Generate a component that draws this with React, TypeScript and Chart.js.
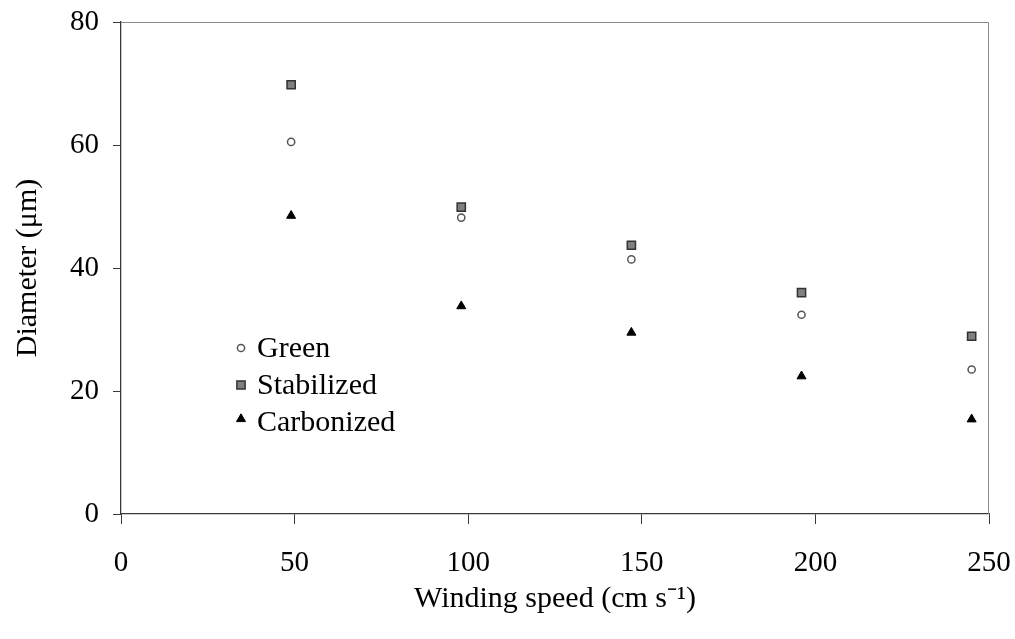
import React, { useEffect, useRef } from 'react';
import { Chart, registerables } from 'chart.js';

Chart.register(...registerables);

const windingSpeed = [49, 98, 147, 196, 245];
const greenDiameter = [60.5, 48.2, 41.4, 32.4, 23.5];
const stabilizedDiameter = [69.8, 49.9, 43.7, 36.0, 28.9];
const carbonizedDiameter = [48.5, 33.8, 29.5, 22.4, 15.4];
const seriesNames = ['Green', 'Stabilized', 'Carbonized'];
const xTickValues = [0, 50, 100, 150, 200, 250];
const yTickValues = [0, 20, 40, 60, 80];
const xTitle = 'Winding speed (cm s\u207B\u00B9)';
const yTitle = 'Diameter (\u03BCm)';

const FONT = '"Liberation Serif", "Times New Roman", serif';
const AXIS = '#3a3a3a';

type Sty = { shape: string; fill: string; stroke: string; r: number; lw: number };
const styles: Sty[] = [
  { shape: 'circle', fill: '#ffffff', stroke: '#555555', r: 3.6, lw: 1.5 },
  { shape: 'rect', fill: '#808080', stroke: '#333333', r: 5.8, lw: 1.5 },
  { shape: 'triangle', fill: '#000000', stroke: '#000000', r: 5.2, lw: 1 },
];

function drawMarker(ctx: CanvasRenderingContext2D, s: Sty, x: number, y: number) {
  ctx.save();
  ctx.fillStyle = s.fill;
  ctx.strokeStyle = s.stroke;
  ctx.lineWidth = s.lw;
  ctx.beginPath();
  if (s.shape === 'circle') {
    ctx.arc(x, y, s.r, 0, Math.PI * 2);
  } else if (s.shape === 'rect') {
    const h = s.r * Math.SQRT1_2;
    ctx.rect(x - h, y - h, 2 * h, 2 * h);
  } else {
    const a = s.r;
    ctx.moveTo(x, y - a);
    ctx.lineTo(x + a * 0.866, y + a * 0.5);
    ctx.lineTo(x - a * 0.866, y + a * 0.5);
    ctx.closePath();
  }
  ctx.fill();
  ctx.stroke();
  ctx.restore();
}

const framePlugin = {
  id: 'frame',
  afterDatasetsDraw(chart: any) {
    const { ctx, chartArea: a } = chart;
    ctx.save();
    ctx.strokeStyle = '#8a8a8a';
    ctx.lineWidth = 1;
    ctx.beginPath();
    ctx.moveTo(a.left, a.top + 0.5);
    ctx.lineTo(a.right - 0.5, a.top + 0.5);
    ctx.lineTo(a.right - 0.5, a.bottom);
    ctx.stroke();
    ctx.restore();
  },
};

const legendPlugin = {
  id: 'innerLegend',
  afterDraw(chart: any) {
    const { ctx } = chart;
    const mx = 241;
    const tx = 257;
    const rows = [349, 386, 423];
    ctx.save();
    ctx.font = `30px ${FONT}`;
    ctx.fillStyle = '#000';
    ctx.textBaseline = 'middle';
    ctx.textAlign = 'left';
    seriesNames.forEach((name, i) => {
      drawMarker(ctx, styles[i], mx, rows[i] - (i === 2 ? 3 : 0) - 1);
      ctx.fillText(name, tx, rows[i]);
    });
    ctx.restore();
  },
};

const zeroPad = (s: any) => {
  s.paddingTop = 0;
  s.paddingBottom = 0;
  s.paddingLeft = 0;
  s.paddingRight = 0;
};

export default function App() {
  const ref = useRef<HTMLCanvasElement | null>(null);
  useEffect(() => {
    if (!ref.current) return;
    const mk = (vals: number[]) => windingSpeed.map((x, i) => ({ x, y: vals[i] }));
    const seriesVals = [greenDiameter, stabilizedDiameter, carbonizedDiameter];
    const chart = new Chart(ref.current, {
      type: 'scatter',
      data: {
        datasets: seriesNames.map((name, i) => ({
          label: name,
          data: mk(seriesVals[i]),
          pointStyle: styles[i].shape,
          pointRadius: styles[i].r,
          pointBackgroundColor: styles[i].fill,
          pointBorderColor: styles[i].stroke,
          pointBorderWidth: styles[i].lw,
          showLine: false,
        })),
      },
      options: {
        animation: false,
        responsive: false,
        maintainAspectRatio: false,
        layout: { padding: { top: 22, right: 26, left: 0, bottom: 0 } },
        plugins: { legend: { display: false }, tooltip: { enabled: false } },
        scales: {
          x: {
            type: 'linear',
            min: 0,
            max: 250,
            afterBuildTicks: (s: any) => {
              s.ticks = xTickValues.map((v) => ({ value: v }));
            },
            afterFit: (s: any) => {
              s.height = 125;
              zeroPad(s);
            },
            grid: { drawOnChartArea: false, drawTicks: true, tickLength: 10, color: AXIS, lineWidth: 1 },
            border: { display: true, color: AXIS, width: 1.3 },
            ticks: { color: '#000', font: { family: FONT, size: 29 }, padding: 22, maxRotation: 0 },
            title: {
              display: true,
              text: xTitle,
              color: '#000',
              font: { family: FONT, size: 30 },
              padding: { top: 0, bottom: 22 },
            },
          },
          y: {
            type: 'linear',
            min: 0,
            max: 80,
            afterBuildTicks: (s: any) => {
              s.ticks = yTickValues.map((v) => ({ value: v }));
            },
            afterFit: (s: any) => {
              s.width = 121;
              zeroPad(s);
            },
            grid: { drawOnChartArea: false, drawTicks: true, tickLength: 8, color: AXIS, lineWidth: 1 },
            border: { display: true, color: AXIS, width: 1.3 },
            ticks: { color: '#000', font: { family: FONT, size: 29 }, padding: 14 },
            title: {
              display: true,
              text: yTitle,
              color: '#000',
              font: { family: FONT, size: 30 },
              padding: { top: 10, bottom: 0 },
            },
          },
        },
      },
      plugins: [framePlugin, legendPlugin],
    } as any);
    return () => chart.destroy();
  }, []);
  return (
    <div style={{ position: 'fixed', left: 0, top: 0, width: 1015, height: 639, background: '#fff' }}>
      <canvas ref={ref} width={1015} height={639} style={{ display: 'block', width: 1015, height: 639 }} />
    </div>
  );
}
